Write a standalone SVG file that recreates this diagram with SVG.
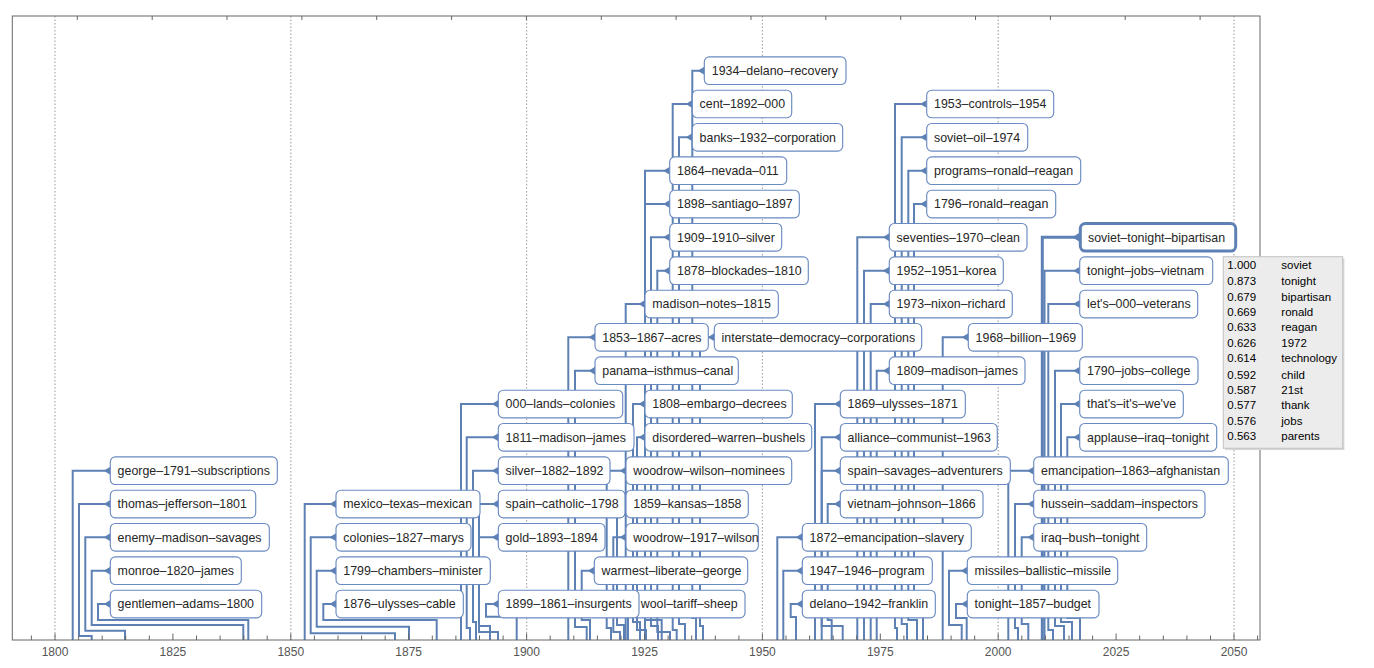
<svg xmlns="http://www.w3.org/2000/svg" width="1374" height="668" viewBox="0 0 1374 668">
<style>
.node rect{fill:#fff;stroke:#6a8bc1;stroke-width:1.15}
.node text{font-family:"Liberation Sans",Arial,sans-serif;font-size:12.4px;fill:#262626}
.c path{fill:none;stroke:#5E81B5;stroke-width:2;marker-end:url(#ah)}
.axis{fill:none;stroke:#666;stroke-width:1}
.grid{stroke:#aaa;stroke-width:1.2;stroke-dasharray:1.5 2}
.tl{font-family:"Liberation Sans",Arial,sans-serif;font-size:12px;fill:#555;text-anchor:middle}
.tip text{font-family:"Liberation Sans",Arial,sans-serif;font-size:11.5px;fill:#000}
</style>
<defs>
<marker id="ah" markerUnits="userSpaceOnUse" orient="auto" refX="6.5" refY="0" markerWidth="8" markerHeight="8" overflow="visible"><path d="M6.5,-4 L6.5,4 L0,0 z" fill="#5E81B5"/></marker>
<marker id="ahb" markerUnits="userSpaceOnUse" orient="auto" refX="8" refY="0" markerWidth="10" markerHeight="10" overflow="visible"><path d="M8,-5 L8,5 L0,0 z" fill="#5E81B5"/></marker>
</defs>
<rect width="1374" height="668" fill="#fff"/>
<g id="grid">
<line class="grid" x1="55" y1="16" x2="55" y2="640"/>
<line class="grid" x1="290.8" y1="16" x2="290.8" y2="640"/>
<line class="grid" x1="526.6" y1="16" x2="526.6" y2="640"/>
<line class="grid" x1="762.4" y1="16" x2="762.4" y2="640"/>
<line class="grid" x1="998.2" y1="16" x2="998.2" y2="640"/>
<line class="grid" x1="1234" y1="16" x2="1234" y2="640"/>
</g>
<g id="connectors" class="c">
<path d="M72.7 640 V470.67 H110.3"/>
<path d="M91.7 640 V636 H79 V504 H110.3"/>
<path d="M125 640 V630.7 H85.3 V537.33 H110.3"/>
<path d="M243.3 640 V625 H91.7 V570.67 H110.3"/>
<path d="M248.3 640 V620 H98 V604 H110.3"/>
<path d="M304.7 640 V504 H336"/>
<path d="M395 640 V633.3 H310.7 V537.33 H336"/>
<path d="M409 640 V626.7 H316.7 V570.67 H336"/>
<path d="M436.7 640 V620 H323.3 V604 H336"/>
<path d="M461 640 V404 H498.3"/>
<path d="M470 640 V628 H466.7 V437.33 H498.3"/>
<path d="M476 640 V622 H473 V470.67 H498.3"/>
<path d="M490 640 V626 H479 V504 H498.3"/>
<path d="M498 640 V632 H479 V537.33 H498.3"/>
<path d="M516.7 640 V616.7 H486 V604 H498.3"/>
<path d="M640 640 V622 H633 V404 H645"/>
<path d="M646 640 V630 H637 V437.33 H645"/>
<path d="M611 640 V628 H606.7 V470.67 H626"/>
<path d="M624 640 V625 H617 V504 H626"/>
<path d="M620 640 V632 H613.3 V537.33 H626"/>
<path d="M590 640 V620 H581.7 V570.67 H594.3"/>
<path d="M628 640 V604 H634"/>
<path d="M568.3 640 V337.33 H595"/>
<path d="M586.7 640 V627 H575 V370.67 H595"/>
<path d="M625.7 640 V304 H645"/>
<path d="M645 640 V170.67 H669.7"/>
<path d="M661.7 640 V620 H645 V204 H669.7"/>
<path d="M658 640 V626 H651 V237.33 H669.7"/>
<path d="M670 640 V632 H657.3 V270.67 H669.7"/>
<path d="M676.7 640 V630 H672.7 V104 H692.3"/>
<path d="M685 640 V624 H679 V137.33 H692.3"/>
<path d="M696 640 V618 H692.3 V70.67 H704.3"/>
<path d="M703 640 V626 H700 V337.33 H714.3"/>
<path d="M815 640 V404 H840.3"/>
<path d="M821.7 640 V437.33 H840.3"/>
<path d="M842.7 640 V626 H821.7 V470.67 H840.3"/>
<path d="M831.7 640 V620 H827.7 V504 H840.3"/>
<path d="M777.3 640 V537.33 H802.3"/>
<path d="M783.3 640 V570.67 H802.3"/>
<path d="M796 640 V617 H790.7 V604 H802.3"/>
<path d="M857.3 640 V237.33 H889.3"/>
<path d="M864 640 V270.67 H889.3"/>
<path d="M870.7 640 V304 H889.3"/>
<path d="M876.7 640 V370.67 H889.3"/>
<path d="M897 640 V628 H895 V104 H926.7"/>
<path d="M907 640 V624 H901.7 V137.33 H926.7"/>
<path d="M917 640 V620 H908.3 V170.67 H926.7"/>
<path d="M923 640 V616 H914 V204 H926.7"/>
<path d="M942.7 640 V337.33 H968.3"/>
<path d="M961.7 640 V625 H949 V570.67 H967.3"/>
<path d="M966.7 640 V618 H956 V604 H967.3"/>
<path d="M1008.3 640 V470.67 H1033.7"/>
<path d="M1018 640 V628 H1015 V504 H1033.7"/>
<path d="M1028.3 640 V624 H1021.7 V537.33 H1033.7"/>
<path d="M1042.3 640 V237.33 H1080.3" style="stroke-width:3;marker-end:url(#ahb)"/>
<path d="M1044.5 640 V270.67 H1079.7"/>
<path d="M1053 640 V630 H1048.3 V304 H1079.7"/>
<path d="M1064 640 V626 H1055 V370.67 H1079.7"/>
<path d="M1072 640 V622 H1061 V404 H1079.7"/>
<path d="M1080 640 V618 H1067.3 V437.33 H1079.7"/>
</g>
<g id="axes">
<rect class="axis" x="12.3" y="16" width="1247.7" height="624"/>
<path class="axis" d="M31.4 640v-4.5M55 640v-6.5M78.6 640v-4.5M102.2 640v-4.5M125.7 640v-4.5M149.3 640v-4.5M172.9 640v-6.5M196.5 640v-4.5M220.1 640v-4.5M243.7 640v-4.5M267.2 640v-4.5M290.8 640v-6.5M314.4 640v-4.5M338 640v-4.5M361.6 640v-4.5M385.2 640v-4.5M408.7 640v-6.5M432.3 640v-4.5M455.9 640v-4.5M479.5 640v-4.5M503.1 640v-4.5M526.6 640v-6.5M550.2 640v-4.5M573.8 640v-4.5M597.4 640v-4.5M621 640v-4.5M644.5 640v-6.5M668.1 640v-4.5M691.7 640v-4.5M715.3 640v-4.5M738.9 640v-4.5M762.4 640v-6.5M786 640v-4.5M809.6 640v-4.5M833.2 640v-4.5M856.8 640v-4.5M880.3 640v-6.5M903.9 640v-4.5M927.5 640v-4.5M951.1 640v-4.5M974.7 640v-4.5M998.2 640v-6.5M1021.8 640v-4.5M1045.4 640v-4.5M1069 640v-4.5M1092.6 640v-4.5M1116.1 640v-6.5M1139.7 640v-4.5M1163.3 640v-4.5M1186.9 640v-4.5M1210.5 640v-4.5M1234 640v-6.5M1257.6 640v-4.5"/>
<path class="axis" d="M77.3 16v4M152.2 16v4M227 16v4M301.9 16v4M376.7 16v4M451.6 16v4M526.4 16v4M601.3 16v4M676.1 16v4M751 16v4M825.8 16v4M900.7 16v4M975.5 16v4M1050.4 16v4M1125.2 16v4M1200.1 16v4"/>
<text class="tl" x="55" y="656">1800</text>
<text class="tl" x="172.9" y="656">1825</text>
<text class="tl" x="290.8" y="656">1850</text>
<text class="tl" x="408.7" y="656">1875</text>
<text class="tl" x="526.6" y="656">1900</text>
<text class="tl" x="644.5" y="656">1925</text>
<text class="tl" x="762.4" y="656">1950</text>
<text class="tl" x="880.3" y="656">1975</text>
<text class="tl" x="998.2" y="656">2000</text>
<text class="tl" x="1116.1" y="656">2025</text>
<text class="tl" x="1234" y="656">2050</text>
</g>
<g id="n01" class="node"><rect x="110.3" y="456.9" width="167" height="27.6" rx="5"/><text x="117.6" y="475.1">george–1791–subscriptions</text></g>
<g id="n02" class="node"><rect x="110.3" y="490.2" width="145.4" height="27.6" rx="5"/><text x="117.6" y="508.4">thomas–jefferson–1801</text></g>
<g id="n03" class="node"><rect x="110.3" y="523.5" width="159" height="27.6" rx="5"/><text x="117.6" y="541.7">enemy–madison–savages</text></g>
<g id="n04" class="node"><rect x="110.3" y="556.9" width="131" height="27.6" rx="5"/><text x="117.6" y="575.1">monroe–1820–james</text></g>
<g id="n05" class="node"><rect x="110.3" y="590.2" width="151.4" height="27.6" rx="5"/><text x="117.6" y="608.4">gentlemen–adams–1800</text></g>
<g id="n06" class="node"><rect x="336" y="490.2" width="144" height="27.6" rx="5"/><text x="343.3" y="508.4">mexico–texas–mexican</text></g>
<g id="n07" class="node"><rect x="336" y="523.5" width="135" height="27.6" rx="5"/><text x="343.3" y="541.7">colonies–1827–marys</text></g>
<g id="n08" class="node"><rect x="336" y="556.9" width="154.3" height="27.6" rx="5"/><text x="343.3" y="575.1">1799–chambers–minister</text></g>
<g id="n09" class="node"><rect x="336" y="590.2" width="127.3" height="27.6" rx="5"/><text x="343.3" y="608.4">1876–ulysses–cable</text></g>
<g id="n10" class="node"><rect x="498.3" y="390.2" width="124.4" height="27.6" rx="5"/><text x="505.6" y="408.4">000–lands–colonies</text></g>
<g id="n11" class="node"><rect x="498.3" y="423.5" width="135.7" height="27.6" rx="5"/><text x="505.6" y="441.7">1811–madison–james</text></g>
<g id="n12" class="node"><rect x="498.3" y="456.9" width="111.7" height="27.6" rx="5"/><text x="505.6" y="475.1">silver–1882–1892</text></g>
<g id="n13" class="node"><rect x="498.3" y="490.2" width="126.7" height="27.6" rx="5"/><text x="505.6" y="508.4">spain–catholic–1798</text></g>
<g id="n14" class="node"><rect x="498.3" y="523.5" width="106.7" height="27.6" rx="5"/><text x="505.6" y="541.7">gold–1893–1894</text></g>
<g id="n22" class="node"><rect x="634" y="590.2" width="111" height="27.6" rx="5"/><text x="640.7" y="608.4">wool–tariff–sheep</text></g>
<g id="n15" class="node"><rect x="498.3" y="590.2" width="140.7" height="27.6" rx="5"/><text x="505.6" y="608.4">1899–1861–insurgents</text></g>
<g id="n16" class="node"><rect x="645" y="390.2" width="147.3" height="27.6" rx="5"/><text x="652.3" y="408.4">1808–embargo–decrees</text></g>
<g id="n17" class="node"><rect x="645" y="423.5" width="166.7" height="27.6" rx="5"/><text x="652.3" y="441.7">disordered–warren–bushels</text></g>
<g id="n18" class="node"><rect x="626" y="456.9" width="165.7" height="27.6" rx="5"/><text x="633.3" y="475.1">woodrow–wilson–nominees</text></g>
<g id="n19" class="node"><rect x="626" y="490.2" width="122.3" height="27.6" rx="5"/><text x="633.3" y="508.4">1859–kansas–1858</text></g>
<g id="n20" class="node"><rect x="626" y="523.5" width="132.3" height="27.6" rx="5"/><text x="633.3" y="541.7">woodrow–1917–wilson</text></g>
<g id="n21" class="node"><rect x="594.3" y="556.9" width="153.4" height="27.6" rx="5"/><text x="601.6" y="575.1">warmest–liberate–george</text></g>
<g id="n23" class="node"><rect x="704.3" y="56.9" width="141.7" height="27.6" rx="5"/><text x="711.8" y="75.1">1934–delano–recovery</text></g>
<g id="n24" class="node"><rect x="692.3" y="90.2" width="99.4" height="27.6" rx="5"/><text x="699.6" y="108.4">cent–1892–000</text></g>
<g id="n25" class="node"><rect x="692.3" y="123.5" width="150.4" height="27.6" rx="5"/><text x="699.6" y="141.7">banks–1932–corporation</text></g>
<g id="n26" class="node"><rect x="669.7" y="156.9" width="117" height="27.6" rx="5"/><text x="677" y="175.1">1864–nevada–011</text></g>
<g id="n27" class="node"><rect x="669.7" y="190.2" width="129.6" height="27.6" rx="5"/><text x="677" y="208.4">1898–santiago–1897</text></g>
<g id="n28" class="node"><rect x="669.7" y="223.5" width="112" height="27.6" rx="5"/><text x="677" y="241.7">1909–1910–silver</text></g>
<g id="n29" class="node"><rect x="669.7" y="256.9" width="138.6" height="27.6" rx="5"/><text x="677" y="275.1">1878–blockades–1810</text></g>
<g id="n30" class="node"><rect x="645" y="290.2" width="133.3" height="27.6" rx="5"/><text x="652.3" y="308.4">madison–notes–1815</text></g>
<g id="n31" class="node"><rect x="595" y="323.5" width="113.3" height="27.6" rx="5"/><text x="602.3" y="341.7">1853–1867–acres</text></g>
<g id="n32" class="node"><rect x="714.3" y="323.5" width="207.4" height="27.6" rx="5"/><text x="721.6" y="341.7">interstate–democracy–corporations</text></g>
<g id="n33" class="node"><rect x="595" y="356.9" width="143.3" height="27.6" rx="5"/><text x="602.3" y="375.1">panama–isthmus–canal</text></g>
<g id="n34" class="node"><rect x="926.7" y="90.2" width="127" height="27.6" rx="5"/><text x="934" y="108.4">1953–controls–1954</text></g>
<g id="n35" class="node"><rect x="926.7" y="123.5" width="101" height="27.6" rx="5"/><text x="934" y="141.7">soviet–oil–1974</text></g>
<g id="n36" class="node"><rect x="926.7" y="156.9" width="154" height="27.6" rx="5"/><text x="934" y="175.1">programs–ronald–reagan</text></g>
<g id="n37" class="node"><rect x="926.7" y="190.2" width="129" height="27.6" rx="5"/><text x="934" y="208.4">1796–ronald–reagan</text></g>
<g id="n38" class="node"><rect x="889.3" y="223.5" width="137.7" height="27.6" rx="5"/><text x="896.6" y="241.7">seventies–1970–clean</text></g>
<g id="n39" class="node"><rect x="889.3" y="256.9" width="114" height="27.6" rx="5"/><text x="896.6" y="275.1">1952–1951–korea</text></g>
<g id="n40" class="node"><rect x="889.3" y="290.2" width="123" height="27.6" rx="5"/><text x="896.6" y="308.4">1973–nixon–richard</text></g>
<g id="n41" class="node"><rect x="968.3" y="323.5" width="114" height="27.6" rx="5"/><text x="975.6" y="341.7">1968–billion–1969</text></g>
<g id="n42" class="node"><rect x="889.3" y="356.9" width="135.7" height="27.6" rx="5"/><text x="896.6" y="375.1">1809–madison–james</text></g>
<g id="n43" class="node"><rect x="840.3" y="390.2" width="125" height="27.6" rx="5"/><text x="847.6" y="408.4">1869–ulysses–1871</text></g>
<g id="n44" class="node"><rect x="840.3" y="423.5" width="157" height="27.6" rx="5"/><text x="847.6" y="441.7">alliance–communist–1963</text></g>
<g id="n45" class="node"><rect x="840.3" y="456.9" width="170" height="27.6" rx="5"/><text x="847.6" y="475.1">spain–savages–adventurers</text></g>
<g id="n46" class="node"><rect x="840.3" y="490.2" width="142.7" height="27.6" rx="5"/><text x="847.6" y="508.4">vietnam–johnson–1866</text></g>
<g id="n47" class="node"><rect x="802.3" y="523.5" width="169" height="27.6" rx="5"/><text x="809.6" y="541.7">1872–emancipation–slavery</text></g>
<g id="n48" class="node"><rect x="802.3" y="556.9" width="130" height="27.6" rx="5"/><text x="809.6" y="575.1">1947–1946–program</text></g>
<g id="n49" class="node"><rect x="802.3" y="590.2" width="133" height="27.6" rx="5"/><text x="809.6" y="608.4">delano–1942–franklin</text></g>
<g id="n50" class="node"><rect x="1080.3" y="223.5" width="155.4" height="27.6" rx="5" style="stroke:#5E81B5;stroke-width:3"/><text x="1088" y="241.7">soviet–tonight–bipartisan</text></g>
<g id="n51" class="node"><rect x="1079.7" y="256.9" width="133" height="27.6" rx="5"/><text x="1087" y="275.1">tonight–jobs–vietnam</text></g>
<g id="n52" class="node"><rect x="1079.7" y="290.2" width="118" height="27.6" rx="5"/><text x="1087" y="308.4">let's–000–veterans</text></g>
<g id="n53" class="node"><rect x="1079.7" y="356.9" width="118.3" height="27.6" rx="5"/><text x="1087" y="375.1">1790–jobs–college</text></g>
<g id="n54" class="node"><rect x="1079.7" y="390.2" width="103.6" height="27.6" rx="5"/><text x="1087" y="408.4">that's–it's–we've</text></g>
<g id="n55" class="node"><rect x="1079.7" y="423.5" width="137" height="27.6" rx="5"/><text x="1087" y="441.7">applause–iraq–tonight</text></g>
<g id="n56" class="node"><rect x="1033.7" y="456.9" width="194.6" height="27.6" rx="5"/><text x="1041" y="475.1">emancipation–1863–afghanistan</text></g>
<g id="n57" class="node"><rect x="1033.7" y="490.2" width="171.3" height="27.6" rx="5"/><text x="1041" y="508.4">hussein–saddam–inspectors</text></g>
<g id="n58" class="node"><rect x="1033.7" y="523.5" width="113" height="27.6" rx="5"/><text x="1041" y="541.7">iraq–bush–tonight</text></g>
<g id="n59" class="node"><rect x="967.3" y="556.9" width="150.4" height="27.6" rx="5"/><text x="974.6" y="575.1">missiles–ballistic–missile</text></g>
<g id="n60" class="node"><rect x="967.3" y="590.2" width="131.7" height="27.6" rx="5"/><text x="974.6" y="608.4">tonight–1857–budget</text></g>
<g id="tooltip" class="tip">
<rect x="1225" y="258.5" width="119.4" height="191.6" fill="#d8d8d8"/>
<rect x="1223.3" y="256.7" width="119.4" height="191.6" fill="#ececec" stroke="#c4c4c4" stroke-width="1"/>
<text x="1227.3" y="269">1.000</text><text x="1281.3" y="269">soviet</text>
<text x="1227.3" y="285">0.873</text><text x="1281.3" y="285">tonight</text>
<text x="1227.3" y="300.7">0.679</text><text x="1281.3" y="300.7">bipartisan</text>
<text x="1227.3" y="316">0.669</text><text x="1281.3" y="316">ronald</text>
<text x="1227.3" y="331.3">0.633</text><text x="1281.3" y="331.3">reagan</text>
<text x="1227.3" y="346.7">0.626</text><text x="1281.3" y="346.7">1972</text>
<text x="1227.3" y="362">0.614</text><text x="1281.3" y="362">technology</text>
<text x="1227.3" y="379">0.592</text><text x="1281.3" y="379">child</text>
<text x="1227.3" y="394">0.587</text><text x="1281.3" y="394">21st</text>
<text x="1227.3" y="409">0.577</text><text x="1281.3" y="409">thank</text>
<text x="1227.3" y="425">0.576</text><text x="1281.3" y="425">jobs</text>
<text x="1227.3" y="439.7">0.563</text><text x="1281.3" y="439.7">parents</text>
</g>
</svg>
